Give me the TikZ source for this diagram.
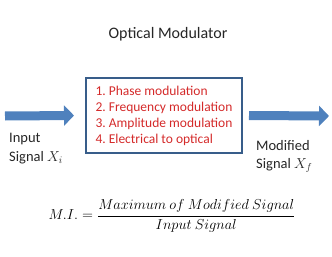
\documentclass[tikz,border=0pt]{standalone}
\usepackage{fontspec}
\setmainfont{Carlito}
\usetikzlibrary{arrows.meta, positioning, calc}
\definecolor{boxblue}{HTML}{385D8A}
\definecolor{arrowblue}{HTML}{4F81BD}
\definecolor{listred}{HTML}{D42A2A}
\frenchspacing

\begin{document}
\begin{tikzpicture}[
      x=1pt, y=-1pt,
      box/.style={rectangle, draw=boxblue, line width=2pt, minimum width=156pt, minimum height=75pt, align=left, text=listred, font=\fontsize{13.5}{16}\selectfont},
      lbl/.style={align=left, inner sep=0pt, text=black!85, font=\fontsize{14.5}{18.5}\selectfont},
      blockarrow/.style={-{Triangle[length=10pt, width=20pt]}, line width=9pt, arrowblue}
    ]
    \useasboundingbox (0,0) rectangle (332,257);

    \node[text=black!85, font=\fontsize{16}{18}\selectfont] (title) at (168,34) {Optical Modulator};
    \node[box] (mod) at (164,115.5) {1. Phase modulation\\2. Frequency modulation\\3. Amplitude modulation\\4. Electrical to optical};

    \coordinate (instart) at (5,116);
    \coordinate (outend) at (329,116);
    \draw[blockarrow] (instart) -- ([xshift=-11pt]mod.west);
    \draw[blockarrow] ([xshift=6pt]mod.east) -- (outend);

    \node[lbl, anchor=north west] (insig) at (9,133) {Input\\Signal $X_i$};
    \node[lbl, anchor=north west] (outsig) at (256,140) {Modified\\Signal $X_f$};

    \node[font=\fontsize{14}{17}\selectfont] (mi) at (172,216) {$\displaystyle M.I.=\frac{Maximum\ of\ Modified\ Signal}{Input\ Signal}$};
  \end{tikzpicture}
\end{document}
